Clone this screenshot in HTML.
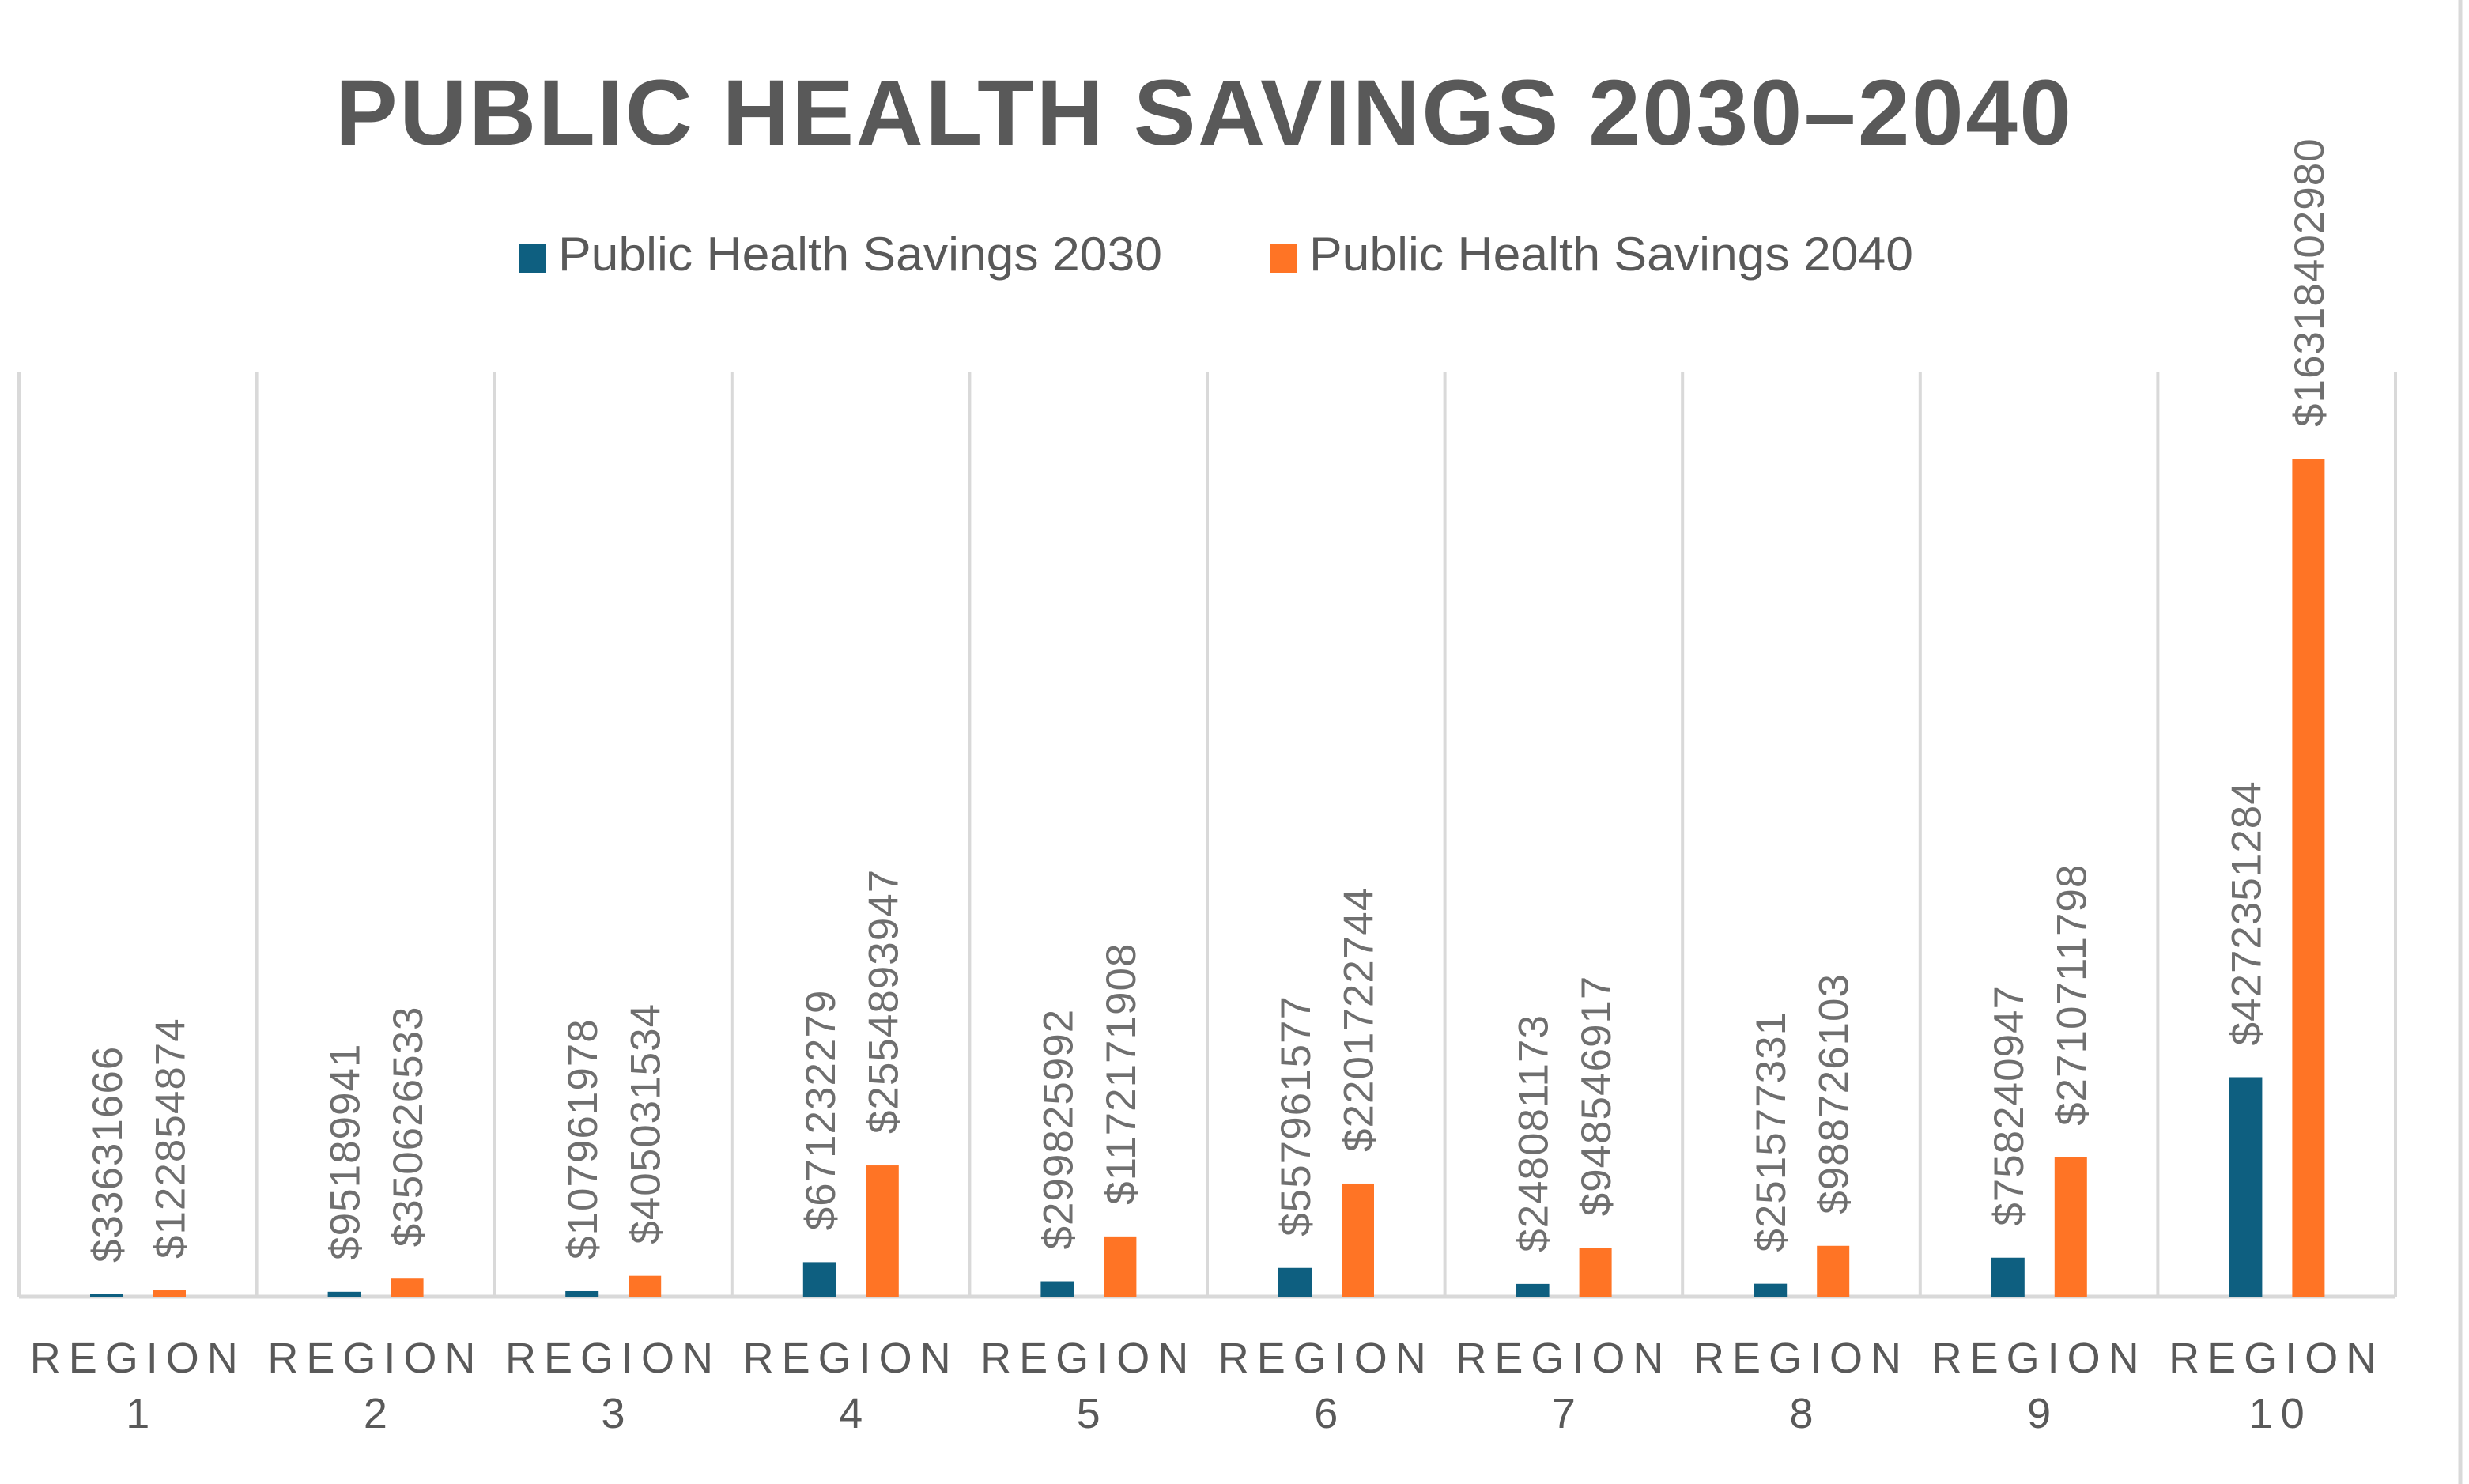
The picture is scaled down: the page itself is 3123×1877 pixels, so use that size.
<!DOCTYPE html>
<html><head><meta charset="utf-8"><style>
html,body{margin:0;padding:0;background:#fff;}
svg{display:block;font-family:"Liberation Sans",sans-serif;}
</style></head><body>
<svg id="chart" width="3123" height="1877" viewBox="0 0 3123 1877" xmlns="http://www.w3.org/2000/svg">
<rect x="0" y="0" width="3123" height="1877" fill="#fff"/>
<text x="1522" y="183" text-anchor="middle" font-size="118" font-weight="bold" fill="#595959" textLength="2196" lengthAdjust="spacing">PUBLIC HEALTH SAVINGS 2030–2040</text>
<g>
<g>
<rect x="656" y="309" width="34" height="36" fill="#0e5f80"/>
<text x="706" y="342" font-size="60" fill="#595959" textLength="764" lengthAdjust="spacingAndGlyphs">Public Health Savings 2030</text>
</g>
<g>
<rect x="1606" y="309" width="34" height="36" fill="#ff7425"/>
<text x="1656" y="342" font-size="60" fill="#595959" textLength="764" lengthAdjust="spacingAndGlyphs">Public Health Savings 2040</text>
</g>
</g>
<line x1="3112" y1="0" x2="3112" y2="1877" stroke="#d9d9d9" stroke-width="5"/>
<g id="plot"></g>
</svg>
<script>
const categories = ["1","2","3","4","5","6","7","8","9","10"];
const values2030 = [33631666, 95189941, 107961978, 671232279, 299825992, 557961577, 248081173, 251577331, 758240947, 4272351284];
const values2040 = [122854874, 350626533, 405031534, 2554893947, 1172171908, 2201722744, 948546917, 988726103, 2710711798, 16318402980];
const yMax = 16318402980 / 0.895;

const NS = "http://www.w3.org/2000/svg";
const plot = document.getElementById("plot");
const X0 = 24, CW = 300.6, Y0 = 1640, YTOP = 470;
const PH = 1060 / 0.895;
function xCat(i){ return X0 + i * CW; }
function yVal(v){ return Y0 - v / yMax * PH; }
function mk(tag, attrs){ const e = document.createElementNS(NS, tag); for (const k in attrs) e.setAttribute(k, attrs[k]); plot.appendChild(e); return e; }

for (let i = 0; i <= categories.length; i++) {
  const g = mk("line", {x1: xCat(i), y1: YTOP, x2: xCat(i), y2: Y0, stroke: "#d9d9d9", "stroke-width": 4});
  
  
}
const ax = mk("line", {x1: X0, y1: Y0, x2: xCat(categories.length), y2: Y0, stroke: "#d9d9d9", "stroke-width": 5});



function fmt(v){ return "$" + v; }
function drawBar(i, v, off, w, color, series) {
  const x = xCat(i) + off, y = yVal(v), h = Math.max(Y0 - y, 3);
  const r = mk("rect", {x: x, y: Y0 - h, width: w, height: h, fill: color});
  
  
  const cx = x + w / 2, by = Y0 - h - 40;
  const t = mk("text", {x: cx + 19, y: by, transform: "rotate(-90 " + (cx + 19) + " " + by + ")", "font-size": 53, fill: "#6f6f6f", "letter-spacing": "1"});
  t.textContent = fmt(v);
  
  
}
for (let i = 0; i < categories.length; i++) {
  drawBar(i, values2030[i], 90, 42, "#0e5f80", "2030");
  drawBar(i, values2040[i], 170, 41, "#ff7425", "2040");
  const cx = xCat(i) + CW / 2;
  const l1 = mk("text", {x: cx, y: 1736, "text-anchor": "middle", "font-size": 54, fill: "#595959", "letter-spacing": "10"});
  l1.textContent = "REGION";
  
  
  const l2 = mk("text", {x: cx + 5, y: 1806, "text-anchor": "middle", "font-size": 54, fill: "#595959", "letter-spacing": "10"});
  l2.textContent = categories[i];
  
  
}
</script>
</body></html>
